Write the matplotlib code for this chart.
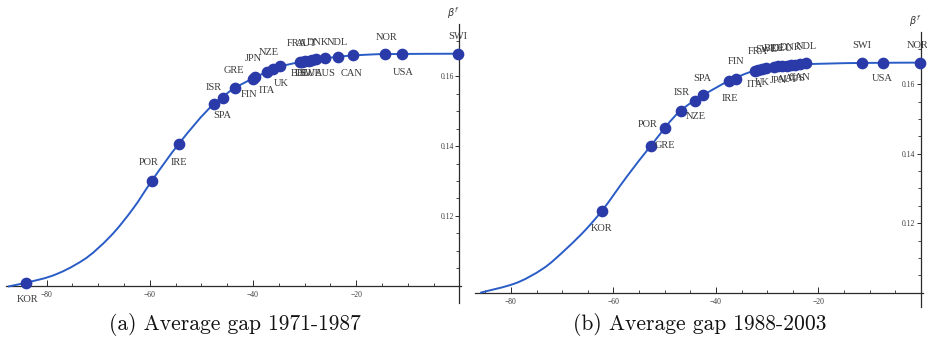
import matplotlib
matplotlib.use("Agg")
import matplotlib.pyplot as plt
from matplotlib.ticker import FixedLocator, NullFormatter, FixedFormatter
from matplotlib.path import Path
from matplotlib.patches import PathPatch

# ---------------- data ----------------
# Panel (a): Average gap 1971-1987
a_countries = ["KOR", "POR", "IRE", "ISR", "SPA", "GRE", "FIN", "JPN", "ITA", "NZE", "UK",
               "FRA", "BEL", "DEU", "SWE", "AUT", "DNK", "AUS", "NDL", "CAN", "NOR", "USA", "SWI"]
a_gap = [-84.0, -59.6, -54.4, -47.6, -45.9, -43.5, -40.1, -39.7, -37.3, -36.1, -34.8,
         -30.9, -30.5, -29.9, -29.1, -28.6, -27.8, -26.0, -23.5, -20.6, -14.4, -11.1, -0.3]
a_beta = [0.1009, 0.1301, 0.1406, 0.1520, 0.1537, 0.1566, 0.1593, 0.1596, 0.1611, 0.1620, 0.1629,
          0.1640, 0.1641, 0.1643, 0.1644, 0.1646, 0.1649, 0.1651, 0.1654, 0.1659, 0.1663, 0.1663, 0.1664]
# points read along the fitted curve of panel (a)
a_curve_x = [-87.5, -84.0, -79.3, -72.9, -67.7, -63.2, -59.6, -54.4, -47.6, -43.5, -39.9,
             -34.8, -30.9, -26.0, -20.6, -14.4, -0.3]
a_curve_y = [0.0998, 0.1009, 0.1027, 0.1074, 0.1141, 0.1222, 0.1301, 0.1406, 0.1520, 0.1566,
             0.1594, 0.1627, 0.1640, 0.1651, 0.1659, 0.1663, 0.1664]

# Panel (b): Average gap 1988-2003
b_countries = ["KOR", "GRE", "POR", "ISR", "NZE", "SPA", "IRE", "FIN",
               "ITA", "FRA", "UK", "SWE", "BEL", "JPN", "DEU", "AUT", "DNK", "AUS", "CAN", "NDL",
               "SWI", "USA", "NOR"]
b_gap = [-62.3, -52.7, -50.0, -46.9, -44.0, -42.5, -37.5, -36.1,
         -32.4, -31.8, -31.0, -30.2, -28.7, -27.9, -27.1, -26.1, -25.4, -24.6, -23.6, -22.4,
         -11.5, -7.5, -0.2]
b_beta = [0.1235, 0.1423, 0.1474, 0.1524, 0.1552, 0.1568, 0.1609, 0.1614,
          0.1639, 0.1642, 0.1645, 0.1647, 0.1650, 0.1651, 0.1652, 0.1653, 0.1655, 0.1656, 0.1658, 0.1660,
          0.1661, 0.1661, 0.1662]
# points read along the fitted curve of panel (b)
b_curve_x = [-86.0, -79.2, -73.7, -69.1, -65.2, -62.3, -57.4, -52.7, -46.9, -42.5,
             -37.5, -32.4, -28.7, -24.6, -11.5, -0.2]
b_curve_y = [0.1000, 0.1027, 0.1070, 0.1128, 0.1185, 0.1235, 0.1334, 0.1423, 0.1524, 0.1568,
             0.1609, 0.1639, 0.1650, 0.1656, 0.1661, 0.1662]

x_major = [-80, -60, -40, -20]
x_major_labels = ["\u221280", "\u221260", "\u221240", "\u221220"]
y_major = [0.12, 0.14, 0.16]
y_major_labels = ["0.12", "0.14", "0.16"]
captions = ["(a) Average gap 1971-1987", "(b) Average gap 1988-2003"]

# ---------------- label placement (pixels: dx right, dy down) ----------------
a_offsets = {"KOR": (2, 17), "POR": (-3, -18), "IRE": (0, 19), "ISR": (0, -17), "SPA": (0, 17),
             "GRE": (-1, -17), "FIN": (-3, 16), "JPN": (-1, -19), "ITA": (0, 18), "NZE": (-4, -17),
             "UK": (1, 18), "FRA": (-3, -19), "BEL": (-2, 12), "DEU": (0, 12), "SWE": (1, 13),
             "AUT": (-5, -17), "DNK": (2, -16), "AUS": (0, 15), "NDL": (-1, -15), "CAN": (-2, 18),
             "NOR": (1, -17), "USA": (1, 18), "SWI": (0, -17)}
b_offsets = {"KOR": (0, 17), "GRE": (14, 0), "POR": (-17, -3), "ISR": (1, -18), "NZE": (0, 16),
             "SPA": (-1, -17), "IRE": (1, 17), "FIN": (0, -18),
             "ITA": (0, 14), "FRA": (0, -18), "UK": (0, 14), "SWE": (0, -18), "BEL": (0, -18),
             "JPN": (0, 14), "DEU": (0, -18), "AUT": (0, 14), "DNK": (0, -18), "AUS": (0, 14),
             "CAN": (0, 14), "NDL": (0, -17),
             "SWI": (0, -17), "USA": (0, 16), "NOR": (-2, -17)}

DPI = 100
fig = plt.figure(figsize=(9.27, 3.47), dpi=DPI)

LINE_C = "#2a5cc6"
DOT_C = "#2a3aa8"
TXT_C = "#3a3a3a"
AX_C = "#2b2b2b"
SERIF = "Liberation Serif"
px2pt = 72.0 / DPI


def smooth_path(xs, ys):
    """Smooth (monotone cubic Bezier) path through the read curve points."""
    n = len(xs)
    h = [xs[i + 1] - xs[i] for i in range(n - 1)]
    d = [(ys[i + 1] - ys[i]) / h[i] for i in range(n - 1)]
    m = [0.0] * n
    m[0], m[-1] = d[0], d[-1]
    for i in range(1, n - 1):
        if d[i - 1] * d[i] <= 0:
            m[i] = 0.0
        else:
            w1 = 2 * h[i] + h[i - 1]
            w2 = h[i] + 2 * h[i - 1]
            m[i] = (w1 + w2) / (w1 / d[i - 1] + w2 / d[i])
    verts = [(xs[0], ys[0])]
    codes = [Path.MOVETO]
    for i in range(n - 1):
        verts += [(xs[i] + h[i] / 3, ys[i] + m[i] * h[i] / 3),
                  (xs[i + 1] - h[i] / 3, ys[i + 1] - m[i + 1] * h[i] / 3),
                  (xs[i + 1], ys[i + 1])]
        codes += [Path.CURVE4] * 3
    return Path(verts, codes)


def panel(rect, xlim, ylim, cx, cy, gx, gb, names, offsets):
    ax = fig.add_axes(rect)
    ax.set_xlim(*xlim)
    ax.set_ylim(*ylim)
    ax.patch.set_alpha(0)
    for s in ("top", "right"):
        ax.spines[s].set_visible(False)
    ax.spines["left"].set_position(("data", 0))
    ax.spines["bottom"].set_position(("data", 0.10))
    for s in ("left", "bottom"):
        ax.spines[s].set_color(AX_C)
        ax.spines[s].set_linewidth(0.9)
    ax.add_patch(PathPatch(smooth_path(cx, cy), fill=False, edgecolor=LINE_C, lw=1.4,
                           clip_on=False, zorder=3))
    ax.plot(gx, gb, "o", color=DOT_C, ms=7.4, mec=DOT_C, clip_on=False, zorder=4)
    for n, x, y in zip(names, gx, gb):
        dx, dy = offsets[n]
        ax.annotate(n, (x, y), xytext=(dx * px2pt, -dy * px2pt), textcoords="offset points",
                    ha="center", va="center", fontsize=7.5, family=SERIF, color=TXT_C, zorder=5)
    # ticks
    ax.xaxis.set_major_locator(FixedLocator(x_major))
    ax.xaxis.set_major_formatter(FixedFormatter(x_major_labels))
    ax.xaxis.set_minor_locator(FixedLocator([v for v in range(-85, 0, 5) if v not in x_major]))
    ax.xaxis.set_minor_formatter(NullFormatter())
    ax.tick_params(axis="x", which="major", direction="in", length=4, width=0.7, color=AX_C,
                   labelsize=5.5, pad=4, labelcolor=TXT_C)
    ax.tick_params(axis="x", which="minor", direction="in", length=2.5, width=0.6, color=AX_C)
    ax.yaxis.set_major_locator(FixedLocator(y_major))
    ax.yaxis.set_major_formatter(FixedFormatter(y_major_labels))
    ax.yaxis.set_minor_locator(FixedLocator([0.095, 0.105, 0.11, 0.115, 0.125, 0.13, 0.135,
                                             0.145, 0.15, 0.155, 0.165, 0.17]))
    ax.yaxis.set_minor_formatter(NullFormatter())
    ax.tick_params(axis="y", which="major", direction="out", length=3, width=0.7, color=AX_C,
                   labelsize=5.5, pad=1, labelcolor=TXT_C)
    ax.tick_params(axis="y", which="minor", direction="out", length=2.5, width=0.6, color=AX_C)
    for lab in ax.get_xticklabels() + ax.get_yticklabels():
        lab.set_family(SERIF)
    ax.annotate(r"$\beta^{f}$", (0, ylim[1]), xytext=(-6 * px2pt, 11 * px2pt), textcoords="offset points",
                ha="center", va="center", fontsize=7, color=TXT_C)
    return ax


panel([6.4 / 927, (347 - 303) / 347, 454.6 / 927, 279 / 347], (-87.8, 0.3), (0.0951, 0.1749),
      a_curve_x, a_curve_y, a_gap, a_beta, a_countries, a_offsets)
panel([475.1 / 927, (347 - 306.7) / 347, 447.4 / 927, 274.7 / 347], (-87.0, 0.3), (0.096, 0.175),
      b_curve_x, b_curve_y, b_gap, b_beta, b_countries, b_offsets)

fig.text(235 / 927, 1 - 325 / 347, captions[0], ha="center", va="center", fontsize=15.5,
         family="cmr10", color="#111111")
fig.text(700 / 927, 1 - 325 / 347, captions[1], ha="center", va="center", fontsize=15.5,
         family="cmr10", color="#111111")

fig.savefig("out.png", dpi=DPI)
